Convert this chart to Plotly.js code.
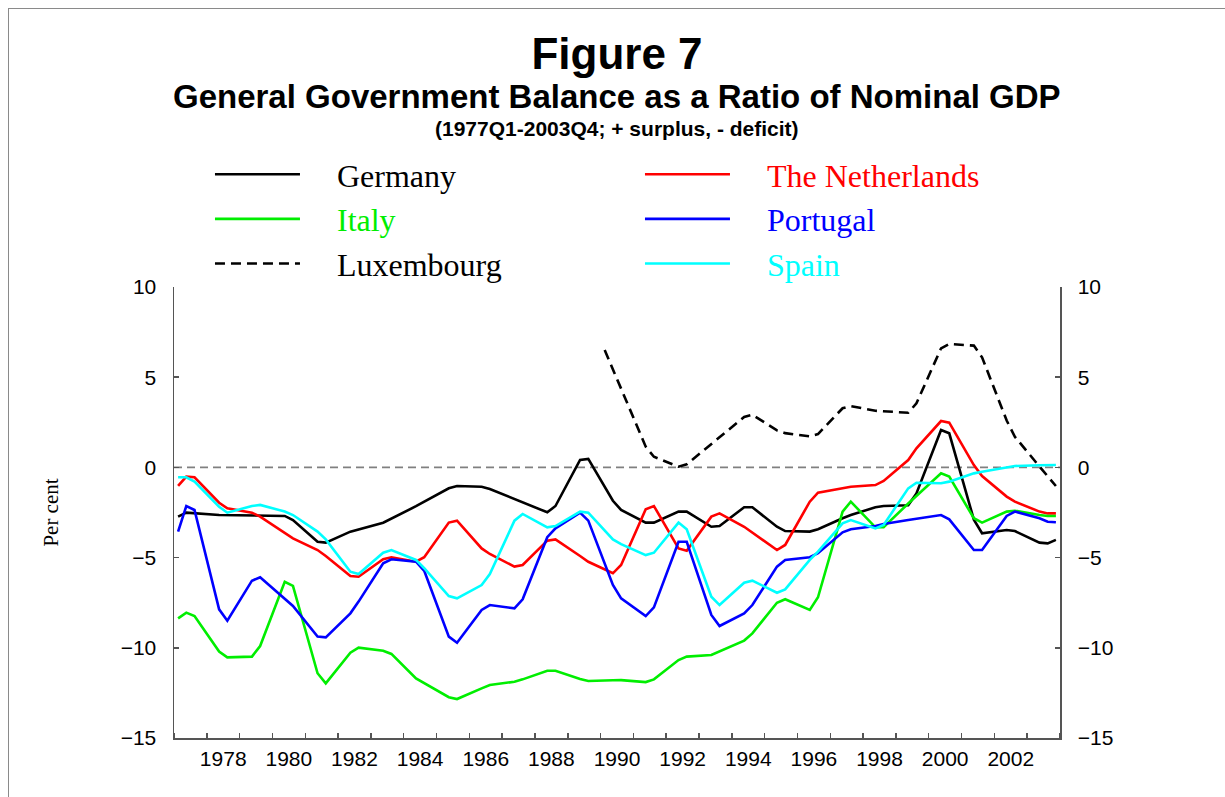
<!DOCTYPE html>
<html>
<head>
<meta charset="utf-8">
<script src="https://cdn.plot.ly/plotly-3.0.1.min.js"></script>
<style>
  html, body { margin: 0; padding: 0; background: #fff; }
  #chart { width: 1225px; height: 797px; position: absolute; left: 0; top: 0; }
  #frame { position: absolute; left: 8px; top: 8px; width: 1217px; height: 789px;
           border-left: 1px solid #8a8a8a; border-top: 1px solid #8a8a8a; pointer-events: none; }
</style>
</head>
<body>
<div id="chart"></div>
<div id="frame"></div>
<script>
// ---- Data (decimal years at mid-quarter, per cent of nominal GDP) ----
const germanyX = [1977.125,1977.375,1978.375,1980.375,1980.625,1981.375,1981.625,1982.375,1983.375,1984.375,1985.375,1985.625,1986.375,1986.625,1988.375,1988.625,1989.375,1989.625,1990.375,1990.625,1991.375,1991.625,1992.375,1992.625,1993.375,1993.625,1994.375,1994.625,1995.375,1995.625,1996.375,1996.625,1997.375,1997.625,1998.375,1998.625,1999.375,1999.625,2000.375,2000.625,2001.375,2001.625,2002.375,2002.625,2003.375,2003.625,2003.875];
const germanyY = [-2.73,-2.51,-2.64,-2.69,-2.92,-4.12,-4.17,-3.56,-3.07,-2.15,-1.16,-1.03,-1.07,-1.20,-2.49,-2.14,0.41,0.47,-1.85,-2.36,-3.06,-3.06,-2.45,-2.45,-3.29,-3.25,-2.21,-2.21,-3.29,-3.53,-3.56,-3.43,-2.82,-2.64,-2.21,-2.14,-2.10,-1.44,2.07,1.89,-2.90,-3.65,-3.47,-3.53,-4.17,-4.21,-4.02];

const netherlandsX = [1977.125,1977.375,1977.625,1978.375,1978.625,1979.375,1979.625,1980.375,1980.625,1981.375,1981.625,1982.375,1982.625,1983.375,1983.625,1984.375,1984.625,1985.375,1985.625,1986.375,1986.625,1987.375,1987.625,1988.375,1988.625,1989.375,1989.625,1990.375,1990.625,1991.375,1991.625,1992.375,1992.625,1993.375,1993.625,1994.375,1994.625,1995.375,1995.625,1996.375,1996.625,1997.375,1997.625,1998.375,1998.625,1999.375,1999.625,2000.375,2000.625,2001.375,2001.625,2002.375,2002.625,2003.375,2003.625,2003.875];
const netherlandsY = [-1.03,-0.51,-0.55,-1.96,-2.27,-2.51,-2.73,-3.65,-3.93,-4.58,-4.91,-6.02,-6.06,-5.09,-4.98,-5.23,-4.98,-3.06,-2.95,-4.49,-4.80,-5.50,-5.41,-4.06,-3.99,-4.91,-5.23,-5.87,-5.41,-2.32,-2.14,-4.49,-4.62,-2.73,-2.55,-3.29,-3.62,-4.58,-4.30,-1.90,-1.40,-1.16,-1.07,-0.98,-0.75,0.41,1.06,2.57,2.48,0.13,-0.48,-1.62,-1.90,-2.45,-2.55,-2.55];

const italyX = [1977.125,1977.375,1977.625,1978.375,1978.625,1979.375,1979.625,1980.375,1980.625,1981.375,1981.625,1982.375,1982.625,1983.375,1983.625,1984.375,1985.375,1985.625,1986.375,1986.625,1987.375,1987.625,1988.375,1988.625,1989.375,1989.625,1990.375,1990.625,1991.375,1991.625,1992.375,1992.625,1993.375,1993.625,1994.375,1994.625,1995.375,1995.625,1996.375,1996.625,1997.375,1997.625,1998.375,1998.625,1999.375,2000.375,2000.625,2001.375,2001.625,2002.375,2002.625,2003.375,2003.625,2003.875];
const italyY = [-8.37,-8.05,-8.24,-10.21,-10.53,-10.49,-9.90,-6.34,-6.57,-11.41,-11.97,-10.27,-9.99,-10.16,-10.34,-11.70,-12.74,-12.84,-12.25,-12.06,-11.88,-11.75,-11.27,-11.27,-11.73,-11.84,-11.80,-11.79,-11.90,-11.75,-10.68,-10.49,-10.40,-10.21,-9.60,-9.20,-7.50,-7.31,-7.90,-7.20,-2.45,-1.90,-3.32,-3.32,-2.00,-0.33,-0.51,-2.82,-3.06,-2.45,-2.40,-2.64,-2.69,-2.69];

const portugalX = [1977.125,1977.375,1977.625,1978.375,1978.625,1979.375,1979.625,1980.375,1980.625,1981.375,1981.625,1982.375,1982.625,1983.375,1983.625,1984.375,1984.625,1985.375,1985.625,1986.375,1986.625,1987.375,1987.625,1988.375,1988.625,1989.375,1989.625,1990.375,1990.625,1991.375,1991.625,1992.375,1992.625,1993.375,1993.625,1994.375,1994.625,1995.375,1995.625,1996.375,1996.625,1997.375,1997.625,1998.375,1998.625,1999.375,2000.375,2000.625,2001.375,2001.625,2002.375,2002.625,2003.375,2003.625,2003.875];
const portugalY = [-3.56,-2.14,-2.36,-7.87,-8.50,-6.28,-6.09,-7.26,-7.68,-9.38,-9.42,-8.09,-7.44,-5.32,-5.09,-5.23,-5.73,-9.38,-9.72,-7.90,-7.63,-7.81,-7.31,-3.87,-3.38,-2.51,-2.95,-6.52,-7.26,-8.24,-7.76,-4.12,-4.12,-8.18,-8.79,-8.09,-7.63,-5.50,-5.13,-4.98,-4.76,-3.60,-3.43,-3.25,-3.14,-2.92,-2.64,-2.88,-4.58,-4.58,-2.69,-2.45,-2.82,-3.01,-3.04];

const luxembourgX = [1990.125,1991.375,1991.625,1992.375,1992.625,1994.375,1994.625,1995.375,1995.625,1996.375,1996.625,1997.375,1997.625,1998.375,1999.375,1999.625,2000.375,2000.625,2001.375,2001.625,2002.375,2002.625,2003.375,2003.625,2003.875];
const luxembourgY = [6.51,1.15,0.59,0.04,0.17,2.80,2.92,2.05,1.90,1.72,1.85,3.28,3.40,3.14,3.03,3.55,6.60,6.84,6.75,6.10,2.60,1.70,0.05,-0.50,-1.03];

const spainX = [1977.125,1977.375,1977.625,1978.375,1978.625,1979.375,1979.625,1980.375,1980.625,1981.375,1981.625,1982.375,1982.625,1983.375,1983.625,1984.375,1984.625,1985.375,1985.625,1986.375,1986.625,1987.375,1987.625,1988.375,1988.625,1989.375,1989.625,1990.375,1990.625,1991.375,1991.625,1992.375,1992.625,1993.375,1993.625,1994.375,1994.625,1995.375,1995.625,1996.375,1996.625,1997.375,1997.625,1998.375,1998.625,1999.375,1999.625,2000.375,2000.625,2001.375,2001.625,2002.375,2002.625,2003.375,2003.875];
const spainY = [-0.55,-0.55,-0.79,-2.18,-2.51,-2.14,-2.08,-2.45,-2.64,-3.56,-3.99,-5.78,-5.91,-4.73,-4.58,-5.13,-5.59,-7.13,-7.26,-6.52,-5.91,-2.95,-2.58,-3.32,-3.25,-2.45,-2.51,-3.99,-4.25,-4.86,-4.73,-3.06,-3.43,-7.17,-7.63,-6.39,-6.28,-6.95,-6.76,-5.13,-4.67,-3.10,-2.92,-3.38,-3.19,-1.16,-0.85,-0.88,-0.79,-0.33,-0.24,0.00,0.08,0.12,0.13];

// ---- Axis labels ----
const yearTickText = ['1978','1980','1982','1984','1986','1988','1990','1992','1994','1996','1998','2000','2002'];
const yearTickPos = yearTickText.map(s => Number(s) + 0.5);   // labels centred on the year
const yearBoundaries = [];
for (let yr = 1977; yr <= 2004; yr++) yearBoundaries.push(yr);  // small tick at each year start
const yTickVals = [-15, -10, -5, 0, 5, 10];

const LW = 2.6;
const PAD = '\u00a0\u00a0\u00a0\u00a0';
const traces = [
  {x: germanyX, y: germanyY, name: PAD + 'Germany', mode: 'lines',
   line: {color: '#000000', width: LW}, legendrank: 1},
  {x: netherlandsX, y: netherlandsY, name: PAD + '<span style="color:#ff0000">The Netherlands</span>', mode: 'lines',
   line: {color: '#ff0000', width: LW}, legendrank: 2},
  {x: italyX, y: italyY, name: PAD + '<span style="color:#00ee00">Italy</span>', mode: 'lines',
   line: {color: '#00ee00', width: LW}, legendrank: 3},
  {x: portugalX, y: portugalY, name: PAD + '<span style="color:#0000ff">Portugal</span>', mode: 'lines',
   line: {color: '#0000ff', width: LW}, legendrank: 4},
  {x: luxembourgX, y: luxembourgY, name: PAD + 'Luxembourg', mode: 'lines',
   line: {color: '#000000', width: LW, dash: '10px,6px'}, legendrank: 5},
  {x: spainX, y: spainY, name: PAD + '<span style="color:#00ffff">Spain</span>', mode: 'lines', yaxis: 'y2',
   line: {color: '#00ffff', width: LW}, legendrank: 6}
];

const tickFont = {family: 'Liberation Sans, Arial, sans-serif', size: 21, color: '#000'};
const axisGray = '#555555';

const layout = {
  width: 1225, height: 797, autosize: false,
  margin: {l: 174, r: 165, t: 287, b: 59, pad: 0},
  paper_bgcolor: 'rgba(0,0,0,0)', plot_bgcolor: '#ffffff',
  title: {text: '<b>Figure 7</b>', x: 0.5, xref: 'paper', xanchor: 'center',
          y: 0.933, yref: 'container', yanchor: 'middle',
          font: {family: 'Liberation Sans, Arial, sans-serif', size: 44, color: '#000'}},
  showlegend: true,
  legend: {orientation: 'h', x: 0.0406, xanchor: 'left', y: 1.3104, yanchor: 'top',
           entrywidth: 330, entrywidthmode: 'pixels', itemwidth: 85,
           font: {family: 'Liberation Serif, Times New Roman, serif', size: 32, color: '#000'},
           bgcolor: 'rgba(0,0,0,0)', borderwidth: 0, traceorder: 'normal', itemclick: false, itemdoubleclick: false},
  xaxis: {range: [1977, 2004], tickmode: 'array', tickvals: yearTickPos, ticktext: yearTickText,
          ticks: '', tickfont: tickFont, ticklabelstandoff: 1,
          minor: {tickmode: 'array', tickvals: yearBoundaries, ticks: 'inside', ticklen: 5, tickwidth: 1.5,
                  tickcolor: axisGray, showgrid: false},
          showline: true, linecolor: axisGray, linewidth: 1.5,
          showgrid: false, zeroline: false, fixedrange: true},
  yaxis: {range: [-15, 10], tickmode: 'array', tickvals: yTickVals, ticks: 'inside', ticklen: 5, tickwidth: 1.5,
          tickcolor: axisGray, showline: true, linecolor: axisGray, linewidth: 1.5, showgrid: false,
          zeroline: false, tickfont: tickFont, ticklabelstandoff: 12, fixedrange: true,
          title: {text: 'Per cent', standoff: 56,
                  font: {family: 'Liberation Serif, Times New Roman, serif', size: 21, color: '#000'}}},
  yaxis2: {overlaying: 'y', anchor: 'x', side: 'right', range: [-15, 10], tickmode: 'array', tickvals: yTickVals,
           ticks: 'inside', ticklen: 5, tickwidth: 1.5, tickcolor: axisGray, showline: true, linecolor: axisGray,
           linewidth: 1.5, showgrid: false, zeroline: false, tickfont: tickFont, ticklabelstandoff: 12, fixedrange: true},
  shapes: [
    {type: 'line', xref: 'paper', yref: 'y', x0: 0, x1: 1, y0: 0, y1: 0, layer: 'below',
     line: {color: '#808080', width: 1.6, dash: '8px,5px'}}
  ],
  annotations: [
    {text: '<b>General Government Balance as a Ratio of Nominal GDP</b>', xref: 'paper', yref: 'paper',
     x: 0.5, y: 1.4215, xanchor: 'center', yanchor: 'middle', showarrow: false,
     font: {family: 'Liberation Sans, Arial, sans-serif', size: 33, color: '#000'}},
    {text: '<b>(1977Q1-2003Q4; + surplus, - deficit)</b>', xref: 'paper', yref: 'paper',
     x: 0.5, y: 1.3525, xanchor: 'center', yanchor: 'middle', showarrow: false,
     font: {family: 'Liberation Sans, Arial, sans-serif', size: 21, color: '#000'}}
  ]
};

Plotly.newPlot('chart', traces, layout, {displayModeBar: false, staticPlot: true});
</script>
</body>
</html>
